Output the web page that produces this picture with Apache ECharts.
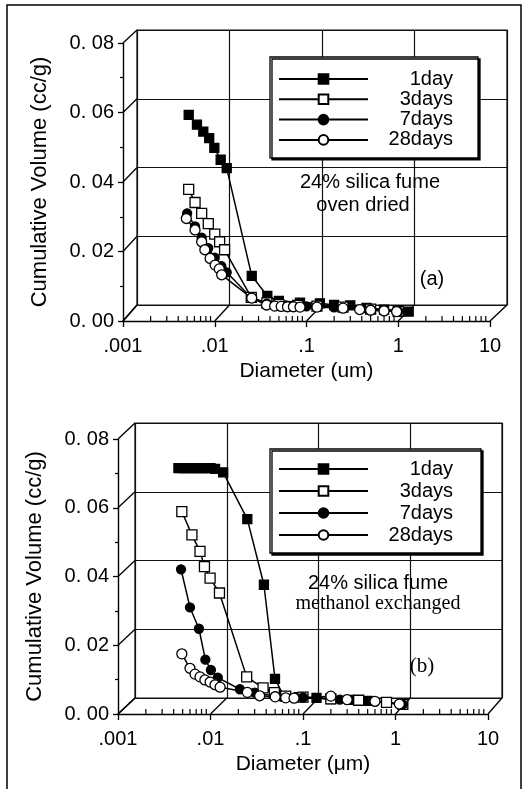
<!DOCTYPE html>
<html><head><meta charset="utf-8">
<script src="https://cdn.jsdelivr.net/npm/echarts@6/dist/echarts.min.js"></script>
<style>html,body{margin:0;padding:0;background:#fff}#c{width:523px;height:789px}</style>
</head><body><div id="c"></div>
<script>
// ---------- data ----------
const seriesNames = ['1day', '3days', '7days', '28days'];
const xTickLabels = ['.001', '.01', '.1', '1', '10'];
const yTickLabels = ['0. 00', '0. 02', '0. 04', '0. 06', '0. 08'];
const yTickValues = [0, 0.02, 0.04, 0.06, 0.08];
const xDecades = [0.001, 0.01, 0.1, 1, 10];
const minorMultipliers = [2, 3, 4, 5, 6, 7, 8, 9];

// (a) oven dried  [diameter um, cumulative volume cc/g]
const a1day = [[0.0052,0.0593],[0.0064,0.0565],[0.0075,0.0545],[0.0087,0.0526],[0.0099,0.0498],[0.0116,0.0464],[0.0135,0.0440],[0.0253,0.0130],[0.0374,0.0072],[0.05,0.0058],[0.085,0.0053],[0.14,0.0051],[0.2,0.0046],[0.3,0.0045],[0.45,0.0038],[0.7,0.0033],[1.0,0.0030],[1.3,0.0027]];
const a3days = [[0.0052,0.0379],[0.0061,0.0341],[0.0072,0.0310],[0.0085,0.0280],[0.0100,0.0250],[0.0113,0.0228],[0.0128,0.0205],[0.0250,0.0068],[0.0370,0.0052],[0.05,0.0047],[0.08,0.0045],[0.13,0.0043],[0.25,0.0040],[0.5,0.0034],[1.0,0.0028]];
const a7days = [[0.0050,0.0310],[0.0061,0.0272],[0.0072,0.0240],[0.0085,0.0210],[0.0100,0.0182],[0.0118,0.0158],[0.0135,0.0140],[0.0250,0.0067],[0.0370,0.0050],[0.06,0.0044],[0.1,0.0042],[0.2,0.0039],[0.5,0.0033],[1.0,0.0028]];
const a28days = [[0.0049,0.0295],[0.0061,0.0262],[0.0072,0.0228],[0.0078,0.0205],[0.0089,0.0180],[0.0101,0.0161],[0.0112,0.0150],[0.0119,0.0133],[0.0253,0.0066],[0.0367,0.0046],[0.045,0.0043],[0.053,0.0042],[0.062,0.0041],[0.072,0.0041],[0.085,0.0040],[0.13,0.0040],[0.25,0.0037],[0.38,0.0033],[0.5,0.0031],[0.7,0.0029],[0.96,0.0027]];

// (b) methanol exchanged
const b1day = [[0.0045,0.0715],[0.0050,0.0715],[0.0055,0.0715],[0.0061,0.0715],[0.0067,0.0715],[0.0074,0.0715],[0.0082,0.0715],[0.0090,0.0715],[0.0100,0.0715],[0.0112,0.0713],[0.0137,0.0703],[0.0250,0.0567],[0.0378,0.0376],[0.0498,0.0102],[0.062,0.0052],[0.09,0.0049],[0.14,0.0047],[0.2,0.0043],[0.32,0.0041],[0.5,0.0038],[0.8,0.0033],[1.2,0.0027]];
const b3days = [[0.0049,0.0589],[0.0063,0.0521],[0.0077,0.0473],[0.0086,0.0429],[0.0099,0.0395],[0.0125,0.0352],[0.0246,0.0108],[0.0370,0.0076],[0.0490,0.0062],[0.065,0.0052],[0.1,0.0049],[0.2,0.0044],[0.4,0.0040],[0.8,0.0034],[1.2,0.0028]];
const b7days = [[0.0048,0.0421],[0.0060,0.0310],[0.0075,0.0248],[0.0088,0.0158],[0.0101,0.0128],[0.0120,0.0106],[0.0208,0.0072],[0.030,0.0062],[0.050,0.0052],[0.1,0.0048],[0.25,0.0042],[0.6,0.0036],[1.2,0.0028]];
const b28days = [[0.0049,0.0175],[0.0060,0.0133],[0.0068,0.0116],[0.0077,0.0108],[0.0087,0.0099],[0.0099,0.0093],[0.0112,0.0085],[0.0127,0.0078],[0.0250,0.0063],[0.0340,0.0053],[0.050,0.0050],[0.065,0.0047],[0.08,0.0046],[0.2,0.0052],[0.3,0.0042],[0.6,0.0037],[1.1,0.0029]];

// ---------- chart ----------
const FONT = 'Liberation Sans, Arial, sans-serif';
const chart = echarts.init(document.getElementById('c'), null, {renderer: 'canvas'});

const styles = {
  '1day':   {symbol: 'rect',   symbolSize: 9,  fill: '#000'},
  '3days':  {symbol: 'rect',   symbolSize: 10, fill: '#fff'},
  '7days':  {symbol: 'circle', symbolSize: 9,  fill: '#000'},
  '28days': {symbol: 'circle', symbolSize: 10, fill: '#fff'}
};

function mkSeries(name, data, axisIdx) {
  const s = styles[name];
  return {
    type: 'line', name: name, data: data,
    xAxisIndex: axisIdx, yAxisIndex: axisIdx,
    symbol: s.symbol, symbolSize: s.symbolSize,
    showSymbol: true, showAllSymbol: true,
    lineStyle: {color: '#000', width: 1.5},
    itemStyle: {color: s.fill, borderColor: '#000', borderWidth: 1.3},
    emphasis: {disabled: true},
    z: 5
  };
}

const grids = [
  {left: 123, top: 43, width: 367, height: 278, outerBoundsMode: 'none'},   // a front
  {left: 137, top: 30, width: 370, height: 275, outerBoundsMode: 'none', show: true, borderColor: '#111', borderWidth: 1.2, backgroundColor: 'transparent'}, // a back
  {left: 118, top: 439, width: 370, height: 275, outerBoundsMode: 'none'},  // b front
  {left: 135, top: 423, width: 367, height: 275, outerBoundsMode: 'none', show: true, borderColor: '#111', borderWidth: 1.2, backgroundColor: 'transparent'}  // b back
];

function frontX(gi, name) {
  return {
    type: 'log', logBase: 10, min: 0.001, max: 10, gridIndex: gi,
    name: name, nameLocation: 'middle', nameGap: 40,
    nameTextStyle: {fontSize: 21, fontFamily: FONT, color: '#000'},
    axisLine: {show: true, onZero: false, lineStyle: {color: '#000', width: 1.4}},
    axisTick: {show: true, length: 6, inside: false, lineStyle: {color: '#000', width: 1.3}},
    axisLabel: {fontSize: 20, fontFamily: FONT, color: '#000', margin: 15,
      formatter: v => xTickLabels[Math.round(Math.log10(v)) + 3]},
    splitLine: {show: false}
  };
}
function frontY(gi) {
  return {
    type: 'value', min: 0, max: 0.08, interval: 0.02, gridIndex: gi,
    name: 'Cumulative Volume (cc/g)', nameLocation: 'middle', nameGap: 72, nameRotate: 90,
    nameTextStyle: {fontSize: 22, fontFamily: FONT, color: '#000'},
    axisLine: {show: true, onZero: false, lineStyle: {color: '#000', width: 1.4}},
    axisTick: {show: true, length: 5, lineStyle: {color: '#000', width: 1.3}},
    minorTick: {show: true, splitNumber: 2, length: 3, lineStyle: {color: '#000', width: 1.2}},
    axisLabel: {fontSize: 20, fontFamily: FONT, color: '#000', margin: 9,
      formatter: v => yTickLabels[Math.round(v / 0.02)]},
    splitLine: {show: false}
  };
}
function backX(gi) {
  return {
    type: 'log', logBase: 10, min: 0.001, max: 10, gridIndex: gi,
    axisLine: {show: false}, axisTick: {show: false}, axisLabel: {show: false},
    splitLine: {show: true, lineStyle: {color: '#111', width: 1.2}}
  };
}
function backY(gi) {
  return {
    type: 'value', min: 0, max: 0.08, interval: 0.02, gridIndex: gi,
    axisLine: {show: false}, axisTick: {show: false}, axisLabel: {show: false},
    splitLine: {show: true, lineStyle: {color: '#111', width: 1.2}}
  };
}

function legendCfg(left, top, padding, lineH, gap) {
  return {
    data: seriesNames, orient: 'vertical', left: left, top: top,
    padding: padding, itemGap: gap, itemWidth: 89, itemHeight: 12,
    backgroundColor: '#fff', borderColor: '#000', borderWidth: 1.3,
    shadowColor: '#000', shadowBlur: 0, shadowOffsetX: 2, shadowOffsetY: 2,
    selectedMode: false,
    formatter: n => '{r|' + n + '}',
    textStyle: {color: '#000', fontFamily: FONT, fontSize: 20,
      rich: {r: {width: 80, align: 'right', fontSize: 20, lineHeight: lineH, fontFamily: FONT, color: '#000'}}},
    z: 10
  };
}

const series = [];
[a1day, a3days, a7days, a28days].forEach((d, i) => series.push(mkSeries(seriesNames[i], d, 0)));
[b1day, b3days, b7days, b28days].forEach((d, i) => series.push(mkSeries(seriesNames[i], d, 2)));

chart.setOption({
  animation: false,
  backgroundColor: '#fff',
  grid: grids,
  xAxis: [frontX(0, 'Diameter (um)'), backX(1), frontX(2, 'Diameter (\u03bcm)'), backX(3)],
  yAxis: [frontY(0), backY(1), frontY(2), backY(3)],
  legend: [legendCfg(270, 57, [12, 25, 8, 8], 19, 0.3), legendCfg(270, 449, [10, 28, 8, 8], 20, 2)],
  series: series
});

// ---------- pseudo-3D decorations (floor, side wall, log minor ticks), derived from the axes ----------
function P(gi, pt) { return chart.convertToPixel({gridIndex: gi}, pt); }
const g = [];
function seg(p1, p2, w) {
  g.push({type: 'line', shape: {x1: p1[0], y1: p1[1], x2: p2[0], y2: p2[1]},
    style: {stroke: '#000', lineWidth: w || 1.3}, z: 1, silent: true});
}
[[0, 1], [2, 3]].forEach(([f, b]) => {
  yTickValues.forEach(v => seg(P(f, [0.001, v]), P(b, [0.001, v])));
  xDecades.forEach(d => seg(P(f, [d, 0]), P(b, [d, 0])));
  xDecades.slice(0, -1).forEach(d => minorMultipliers.forEach(k => {
    const p = P(f, [d * k, 0]);
    seg([p[0], p[1]], [p[0], p[1] - 5], 1.2);
  }));
});
function txt(x, y, text, size, family) {
  g.push({type: 'text', x: x, y: y, silent: true, z: 6,
    style: {text: text, fill: '#000', font: size + 'px ' + family, align: 'center', verticalAlign: 'middle'}});
}
txt(370, 182, '24% silica fume', 20, FONT);
txt(363, 205, 'oven dried', 20, FONT);
txt(432, 279, '(a)', 20, FONT);
txt(378, 583, '24% silica fume', 20, FONT);
txt(378, 604, 'methanol exchanged', 20, 'Liberation Serif, serif');
txt(422, 666, '(b)', 21, 'Liberation Serif, serif');
// page frame
g.push({type: 'polyline', shape: {points: [[7, 789], [7, 5], [521, 5], [521, 789]]},
  style: {stroke: '#000', lineWidth: 1.5, fill: null}, silent: true, z: 0});
chart.setOption({graphic: g});
</script></body></html>
